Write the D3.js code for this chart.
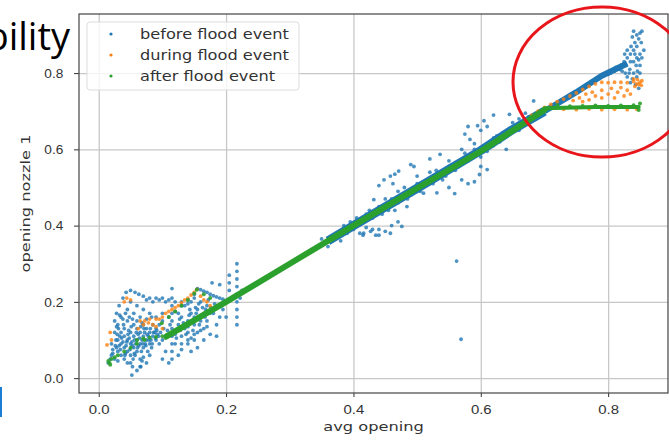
<!DOCTYPE html>
<html>
<head>
<meta charset="utf-8">
<script src="https://cdn.jsdelivr.net/npm/d3@7"></script>
<style>
  body { margin: 0; background: #fff; }
  svg { display: block; }
</style>
</head>
<body>
<div id="chart"></div>
<script>
// Tick values
const xTicks = [0.0, 0.2, 0.4, 0.6, 0.8];
const yTicks = [0.0, 0.2, 0.4, 0.6, 0.8];

// Series names
const seriesNames = ["before flood event", "during flood event", "after flood event"];
const seriesColors = ["#1f77b4", "#ff7f0e", "#2ca02c"];

// Dense ridges of "before" points along the diagonal
const beforeBand = [[0.36,0.36],[0.4,0.4],[0.5,0.498],[0.6,0.597],[0.65,0.652],[0.7,0.7]];
const beforeUpper = [[0.7,0.7],[0.75,0.75],[0.79,0.793],[0.83,0.825]];

// Scattered "before" points
const beforePoints = [
  // low dense cluster
  [0.015,0.04],[0.02,0.06],[0.02,0.09],[0.025,0.05],[0.025,0.12],[0.03,0.07],[0.03,0.1],[0.03,0.14],[0.035,0.06],[0.035,0.09],
  [0.035,0.12],[0.035,0.16],[0.04,0.05],[0.04,0.08],[0.04,0.11],[0.04,0.13],[0.045,0.07],[0.045,0.1],[0.045,0.15],[0.05,0.06],
  [0.05,0.09],[0.05,0.12],[0.05,0.04],[0.055,0.08],[0.055,0.11],[0.055,0.14],[0.06,0.07],[0.06,0.1],[0.06,0.13],[0.065,0.09],
  [0.065,0.12],[0.065,0.05],[0.07,0.08],[0.07,0.11],[0.07,0.14],[0.075,0.1],[0.075,0.13],[0.08,0.09],[0.08,0.12],[0.085,0.11],
  [0.085,0.14],[0.09,0.1],[0.09,0.13],[0.028,0.08],[0.033,0.11],[0.038,0.095],[0.043,0.085],[0.048,0.105],[0.052,0.095],[0.058,0.09],
  [0.062,0.115],[0.068,0.1],[0.072,0.12],[0.078,0.11],[0.082,0.1],[0.088,0.12],[0.03,0.045],[0.045,0.04],[0.022,0.075],[0.027,0.1],
  [0.032,0.085],[0.042,0.065],[0.047,0.125],[0.057,0.06],[0.063,0.085],[0.067,0.07],[0.073,0.09],[0.077,0.07],[0.083,0.08],[0.092,0.115],
  [0.018,0.05],[0.022,0.065],[0.026,0.085],[0.029,0.115],[0.031,0.13],[0.034,0.075],[0.036,0.105],[0.039,0.14],[0.041,0.06],[0.044,0.095],
  [0.046,0.115],[0.049,0.075],[0.051,0.135],[0.053,0.085],[0.056,0.1],[0.059,0.12],[0.061,0.08],[0.064,0.105],[0.066,0.135],[0.069,0.09],
  [0.071,0.13],[0.074,0.085],[0.076,0.115],[0.079,0.1],[0.081,0.13],[0.084,0.09],[0.086,0.12],[0.089,0.105],[0.091,0.125],[0.094,0.11],
  [0.097,0.12],[0.038,0.155],[0.042,0.17],[0.033,0.165],[0.028,0.135],[0.048,0.16],[0.053,0.155],[0.06,0.15],[0.068,0.145],[0.075,0.155],
  [0.083,0.16],[0.095,0.14],[0.102,0.13],[0.108,0.125],[0.112,0.14],
  // low outliers and streaks
  [0.052,0.008],[0.053,0.03],[0.054,0.05],[0.056,0.065],[0.06,0.02],[0.065,0.03],[0.075,0.04],[0.08,0.06],[0.1,0.05],[0.11,0.04],
  [0.105,0.07],[0.125,0.06],[0.13,0.075],[0.14,0.09],[0.145,0.07],[0.155,0.08],[0.165,0.1],[0.175,0.115],[0.185,0.11],[0.095,0.09],
  [0.066,0.03],[0.068,0.045],[0.07,0.055],
  [0.115,0.05],[0.115,0.07],[0.115,0.09],[0.115,0.11],[0.115,0.13],[0.115,0.15],[0.115,0.17],[0.115,0.19],[0.115,0.21],[0.115,0.235],
  [0.217,0.14],[0.217,0.16],[0.217,0.18],[0.217,0.2],[0.217,0.22],[0.217,0.24],[0.217,0.26],[0.217,0.28],[0.217,0.3],[0.222,0.21],
  [0.212,0.21],[0.225,0.23],[0.205,0.27],[0.205,0.25],[0.205,0.23],[0.178,0.25],[0.19,0.245],[0.195,0.18],[0.2,0.16],[0.19,0.16],
  [0.185,0.14],[0.18,0.17],
  // second cluster
  [0.12,0.12],[0.125,0.14],[0.13,0.11],[0.13,0.16],[0.135,0.13],[0.14,0.15],[0.14,0.12],[0.145,0.17],[0.15,0.14],[0.15,0.16],
  [0.155,0.12],[0.155,0.18],[0.16,0.15],[0.16,0.2],[0.165,0.17],[0.165,0.13],[0.17,0.19],[0.17,0.15],[0.175,0.17],[0.12,0.09],
  [0.13,0.09],[0.14,0.1],[0.15,0.1],[0.125,0.17],[0.135,0.19],[0.145,0.2],[0.15,0.21],[0.128,0.125],[0.138,0.14],[0.148,0.125],
  [0.158,0.14],[0.162,0.165],[0.168,0.18],[0.142,0.165],[0.152,0.185],[0.122,0.105],[0.127,0.155],[0.133,0.145],[0.137,0.115],[0.143,0.18],
  [0.147,0.15],[0.153,0.17],[0.157,0.195],[0.163,0.185],[0.167,0.16],[0.172,0.205],[0.176,0.185],[0.182,0.195],[0.17,0.135],[0.16,0.125],
  [0.15,0.115],[0.145,0.105],
  // upper arc
  [0.025,0.15],[0.028,0.17],[0.032,0.19],[0.038,0.21],[0.043,0.225],[0.05,0.23],[0.057,0.225],[0.063,0.22],[0.07,0.215],[0.075,0.205],
  [0.08,0.21],[0.085,0.2],[0.09,0.21],[0.095,0.205],[0.1,0.21],[0.105,0.2],[0.11,0.205],[0.12,0.2],[0.13,0.2],[0.14,0.195],
  [0.06,0.19],[0.07,0.18],[0.08,0.17],[0.09,0.16],[0.1,0.17],[0.05,0.2],[0.045,0.18],[0.055,0.17],[0.065,0.16],
  // line from peak down to 0.2
  [0.155,0.235],[0.16,0.232],[0.165,0.228],[0.17,0.225],[0.175,0.22],[0.18,0.216],[0.185,0.213],[0.19,0.21],[0.195,0.207],
  [0.1,0.15],[0.11,0.16],[0.12,0.175],[0.13,0.19],[0.14,0.205],[0.15,0.22],[0.1,0.1],[0.12,0.115],[0.14,0.135],[0.16,0.16],[0.18,0.18],
  // middle scatter
  [0.39,0.38],[0.4,0.39],[0.41,0.38],[0.415,0.375],[0.42,0.395],[0.43,0.39],[0.44,0.39],[0.45,0.385],[0.46,0.4],[0.435,0.375],
  [0.416,0.38],[0.427,0.385],[0.458,0.38],[0.476,0.398],[0.484,0.45],[0.432,0.468],[0.458,0.53],[0.471,0.543],[0.49,0.56],[0.495,0.555],
  [0.536,0.587],[0.58,0.66],[0.595,0.662],[0.61,0.66],[0.62,0.69],[0.583,0.626],[0.645,0.692],[0.635,0.644],[0.531,0.486],[0.559,0.484],
  [0.58,0.51],[0.59,0.515],[0.598,0.534],[0.61,0.547],[0.64,0.6],[0.62,0.61],[0.562,0.307],[0.569,0.102],[0.683,0.727],[0.44,0.45],
  [0.45,0.47],[0.47,0.49],[0.5,0.53],[0.52,0.54],[0.55,0.57],[0.57,0.6],[0.59,0.615],[0.51,0.485],[0.54,0.52],[0.56,0.545],
  [0.6,0.58],[0.63,0.62],[0.66,0.68],[0.67,0.695],[0.62,0.63],[0.38,0.36],[0.36,0.345],[0.35,0.365],[0.42,0.43],[0.455,0.44],
  [0.37,0.375],[0.385,0.4],[0.395,0.41],[0.405,0.42],[0.41,0.405],[0.425,0.44],[0.43,0.42],[0.445,0.43],[0.45,0.455],[0.46,0.47],
  [0.465,0.44],[0.47,0.46],[0.48,0.5],[0.485,0.47],[0.49,0.48],[0.5,0.51],[0.505,0.49],[0.515,0.52],[0.525,0.51],[0.53,0.545],
  [0.545,0.53],[0.55,0.555],[0.565,0.555],[0.575,0.59],[0.58,0.57],[0.59,0.6],[0.605,0.61],[0.61,0.595],[0.625,0.635],[0.64,0.64],
  [0.65,0.67],[0.66,0.65],[0.675,0.685],[0.69,0.69],[0.44,0.505],[0.448,0.52],[0.462,0.51],[0.465,0.535],[0.52,0.575],[0.575,0.64],
  [0.6,0.65],[0.605,0.675],[0.55,0.5],[0.57,0.52],[0.6,0.555],[0.44,0.375],[0.47,0.41],
  // top right cluster
  [0.82,0.82],[0.825,0.83],[0.83,0.84],[0.835,0.85],[0.84,0.86],[0.845,0.87],[0.848,0.89],[0.85,0.905],[0.845,0.9],[0.838,0.895],
  [0.842,0.88],[0.852,0.88],[0.836,0.87],[0.83,0.86],[0.826,0.85],[0.828,0.82],[0.834,0.81],[0.84,0.8],[0.845,0.79],[0.85,0.8],
  [0.838,0.785],[0.843,0.77],[0.848,0.76],[0.835,0.775],[0.83,0.79],[0.822,0.805],[0.818,0.81],[0.812,0.815],[0.853,0.84],[0.856,0.86],
  [0.85,0.85],[0.845,0.84],[0.84,0.83],[0.835,0.83],[0.844,0.82],[0.85,0.82],[0.846,0.805],[0.833,0.8],[0.827,0.8],[0.81,0.805],
  [0.804,0.8],[0.8,0.797],[0.842,0.85],[0.848,0.835],[0.84,0.91],[0.853,0.91]
];

// "during" points
const duringPoints = [
  // low region
  [0.013,0.087],[0.018,0.12],[0.02,0.1],[0.044,0.21],[0.04,0.2],[0.05,0.205],[0.062,0.13],[0.07,0.14],[0.072,0.15],[0.078,0.145],
  [0.085,0.14],[0.09,0.155],[0.095,0.155],[0.1,0.16],[0.105,0.17],[0.11,0.175],[0.115,0.18],[0.12,0.185],[0.125,0.19],[0.13,0.198],
  [0.135,0.205],[0.14,0.21],[0.145,0.218],[0.15,0.225],[0.154,0.233],[0.16,0.215],[0.165,0.205],[0.17,0.2],[0.175,0.19],[0.065,0.15],
  [0.08,0.155],[0.09,0.135],[0.1,0.13],
  // top right
  [0.68,0.69],[0.69,0.7],[0.7,0.71],[0.71,0.718],[0.72,0.725],[0.73,0.732],[0.74,0.74],[0.75,0.748],[0.76,0.757],[0.77,0.765],
  [0.78,0.772],[0.79,0.776],[0.8,0.775],[0.81,0.776],[0.82,0.776],[0.83,0.775],[0.84,0.778],[0.845,0.772],[0.85,0.776],[0.853,0.78],
  [0.848,0.77],[0.842,0.765],[0.846,0.783],[0.745,0.728],[0.755,0.735],[0.765,0.745],[0.775,0.75],[0.78,0.74],[0.79,0.755],[0.8,0.745],
  [0.805,0.76],[0.815,0.75],[0.82,0.762],[0.83,0.755],[0.835,0.745],[0.825,0.74],[0.81,0.735],[0.79,0.735],[0.77,0.73],[0.76,0.725],
  [0.73,0.705],[0.75,0.704],[0.77,0.706],[0.79,0.704],[0.81,0.705],[0.83,0.704],[0.845,0.705],[0.84,0.785],[0.852,0.768]
];

// Dense ridges of "after" points
const afterBand = [[0.107,0.11],[0.2,0.2],[0.3,0.3],[0.4,0.4],[0.5,0.498],[0.6,0.595],[0.7,0.703]];
const afterFlat = [[0.7,0.708],[0.78,0.711],[0.848,0.711]];

// Scattered "after" points
const afterPoints = [
  [0.015,0.045],[0.017,0.04],[0.02,0.05],[0.018,0.035],[0.025,0.055],[0.03,0.06],[0.04,0.07],[0.05,0.08],[0.06,0.09],[0.07,0.104],
  [0.08,0.106],[0.09,0.108],[0.1,0.11],[0.099,0.144],[0.11,0.16],[0.12,0.175],[0.13,0.19],[0.14,0.205],[0.15,0.222],[0.154,0.232],
  [0.165,0.22],[0.175,0.21],[0.06,0.1],[0.105,0.105],[0.072,0.1],
  [0.72,0.716],[0.74,0.713],[0.76,0.714],[0.78,0.715],[0.8,0.714],[0.82,0.715],[0.84,0.716],[0.85,0.72],[0.848,0.703]
];

// Set up chart dimensions
const width = 669;
const height = 440;
const margin = { top: 14, right: 1, bottom: 47, left: 79 };

const svg = d3.select("#chart")
  .append("svg")
  .attr("width", width)
  .attr("height", height)
  .style("font-family", "'DejaVu Sans', sans-serif");

// Set up scales
const xScale = d3.scaleLinear()
  .domain([-0.031, 0.894])
  .range([margin.left, width - margin.right]);

const yScale = d3.scaleLinear()
  .domain([-0.039, 0.955])
  .range([height - margin.bottom, margin.top]);

const fmt = d3.format(".1f");

// Clip for plot area
svg.append("clipPath").attr("id", "plot")
  .append("rect")
  .attr("x", margin.left).attr("y", margin.top)
  .attr("width", width - margin.left - margin.right)
  .attr("height", height - margin.top - margin.bottom);

// Grid lines
svg.append("g")
  .attr("transform", `translate(0, ${height - margin.bottom})`)
  .call(d3.axisBottom(xScale).tickValues(xTicks).tickSize(-(height - margin.top - margin.bottom)).tickFormat(""))
  .call(g => g.select(".domain").remove())
  .call(g => g.selectAll("line").attr("stroke", "#c8c8c8").attr("stroke-width", 1.3));

svg.append("g")
  .attr("transform", `translate(${margin.left}, 0)`)
  .call(d3.axisLeft(yScale).tickValues(yTicks).tickSize(-(width - margin.left - margin.right)).tickFormat(""))
  .call(g => g.select(".domain").remove())
  .call(g => g.selectAll("line").attr("stroke", "#c8c8c8").attr("stroke-width", 1.3));

const plot = svg.append("g").attr("clip-path", "url(#plot)");

const line = d3.line()
  .x(d => xScale(d[0]))
  .y(d => yScale(d[1]));

// before flood event
[beforeBand, beforeUpper].forEach((band, i) => {
  plot.append("path")
    .datum(band)
    .attr("fill", "none")
    .attr("stroke", seriesColors[0])
    .attr("stroke-width", i === 0 ? 9 : 6)
    .attr("stroke-linecap", "butt")
    .attr("stroke-linejoin", "round")
    .attr("d", line);
});

plot.append("g")
  .selectAll("circle")
  .data(beforePoints)
  .enter()
  .append("circle")
  .attr("cx", d => xScale(d[0]))
  .attr("cy", d => yScale(d[1]))
  .attr("r", 1.9)
  .attr("fill", seriesColors[0])
  .attr("fill-opacity", 0.8);

// during flood event
plot.append("g")
  .selectAll("circle")
  .data(duringPoints)
  .enter()
  .append("circle")
  .attr("cx", d => xScale(d[0]))
  .attr("cy", d => yScale(d[1]))
  .attr("r", 1.9)
  .attr("fill", seriesColors[1])
  .attr("fill-opacity", 0.8);

// after flood event
[afterBand, afterFlat].forEach((band, i) => {
  plot.append("path")
    .datum(band)
    .attr("fill", "none")
    .attr("stroke", seriesColors[2])
    .attr("stroke-width", i === 0 ? 6 : 4)
    .attr("stroke-linecap", "round")
    .attr("d", line);
});

plot.append("g")
  .selectAll("circle")
  .data(afterPoints)
  .enter()
  .append("circle")
  .attr("cx", d => xScale(d[0]))
  .attr("cy", d => yScale(d[1]))
  .attr("r", 2)
  .attr("fill", seriesColors[2])
  .attr("fill-opacity", 0.9);

// Axes
const xAxis = svg.append("g")
  .attr("transform", `translate(0, ${height - margin.bottom})`)
  .call(d3.axisBottom(xScale).tickValues(xTicks).tickFormat(fmt).tickSize(4).tickSizeOuter(0));

const yAxis = svg.append("g")
  .attr("transform", `translate(${margin.left}, 0)`)
  .call(d3.axisLeft(yScale).tickValues(yTicks).tickFormat(fmt).tickSize(5).tickSizeOuter(0));

[xAxis, yAxis].forEach(g => {
  g.select(".domain").remove();
  g.selectAll("line").attr("stroke", "#333");
  g.selectAll("text").attr("fill", "#333").style("font-size", "13px");
});
xAxis.selectAll("text").attr("dy", "1.1em").attr("transform", "scale(1.15,1)");
yAxis.selectAll("text").attr("x", -15).attr("transform", "scale(1.05,1)");

// Frame
svg.append("rect")
  .attr("x", margin.left)
  .attr("y", margin.top)
  .attr("width", width - margin.left - margin.right)
  .attr("height", height - margin.top - margin.bottom)
  .attr("fill", "none")
  .attr("stroke", "#444")
  .attr("stroke-width", 1.2);

// Axis labels
svg.append("text")
  .attr("transform", `translate(${(margin.left + width - margin.right) / 2}, 431) scale(1.3,1)`)
  .attr("text-anchor", "middle")
  .attr("fill", "#333")
  .style("font-size", "12.5px")
  .text("avg opening");

svg.append("text")
  .attr("transform", `translate(30, ${(margin.top + height - margin.bottom) / 2}) rotate(-90) scale(1.3,1)`)
  .attr("text-anchor", "middle")
  .attr("fill", "#333")
  .style("font-size", "12.5px")
  .text("opening nozzle 1");

// Legend
const legend = svg.append("g").attr("transform", "translate(87, 22)");
legend.append("rect")
  .attr("width", 212)
  .attr("height", 68)
  .attr("rx", 3)
  .attr("fill", "#fff")
  .attr("fill-opacity", 0.8)
  .attr("stroke", "#ddd");

seriesNames.forEach((name, i) => {
  legend.append("circle")
    .attr("cx", 24)
    .attr("cy", 12 + i * 21)
    .attr("r", 1.6)
    .attr("fill", seriesColors[i]);
  legend.append("text")
    .attr("transform", `translate(53, ${12 + i * 21}) scale(1.2,1)`)
    .attr("dy", "0.35em")
    .attr("fill", "#333")
    .style("font-size", "13.5px")
    .text(name);
});

// Slide overlay: cropped title, highlight ellipse, edge bar
svg.append("text")
  .attr("x", 70)
  .attr("y", 50)
  .attr("text-anchor", "end")
  .attr("fill", "#000")
  .style("font-family", "'Open Sans', sans-serif")
  .style("font-size", "38px")
  .text("bility");

svg.append("ellipse")
  .attr("cx", 602)
  .attr("cy", 82)
  .attr("rx", 89)
  .attr("ry", 75)
  .attr("fill", "none")
  .attr("stroke", "#e8151b")
  .attr("stroke-width", 3);

svg.append("rect")
  .attr("x", 0)
  .attr("y", 387)
  .attr("width", 2)
  .attr("height", 30)
  .attr("fill", "#1a7fd4");
</script>
</body>
</html>
